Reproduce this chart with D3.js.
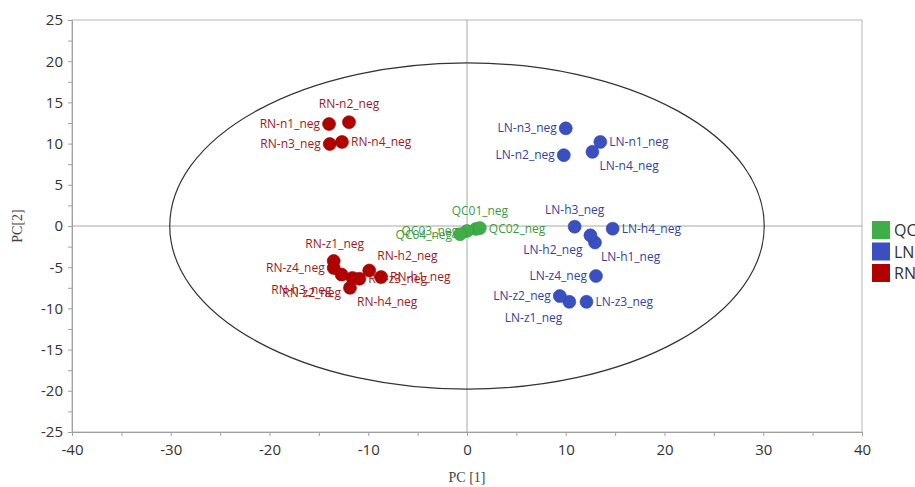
<!DOCTYPE html>
<html>
<head>
<meta charset="utf-8">
<script src="https://cdn.jsdelivr.net/npm/d3@7"></script>
<style>
body { margin: 0; background: #fff; }
svg { font-family: "Open Sans", sans-serif; }
</style>
</head>
<body>
<div id="chart"></div>
<script>
// sample scores (PC1, PC2)
var qcNames = ["QC01_neg", "QC02_neg", "QC03_neg", "QC04_neg"];
var qcPC1 = [0.9, 1.3, 0.0, -0.7];
var qcPC2 = [-0.35, -0.25, -0.6, -1.0];

var lnNames = ["LN-n1_neg", "LN-n2_neg", "LN-n3_neg", "LN-n4_neg",
               "LN-h1_neg", "LN-h2_neg", "LN-h3_neg", "LN-h4_neg",
               "LN-z1_neg", "LN-z2_neg", "LN-z3_neg", "LN-z4_neg"];
var lnPC1 = [13.5, 9.8, 10.0, 12.7, 12.96, 12.5, 10.9, 14.75, 10.36, 9.4, 12.1, 13.06];
var lnPC2 = [10.2, 8.6, 11.85, 9.0, -2.0, -1.13, -0.08, -0.33, -9.2, -8.5, -9.2, -6.07];

var rnNames = ["RN-n1_neg", "RN-n2_neg", "RN-n3_neg", "RN-n4_neg",
               "RN-h1_neg", "RN-h2_neg", "RN-h3_neg", "RN-h4_neg",
               "RN-z1_neg", "RN-z2_neg", "RN-z3_neg", "RN-z4_neg"];
var rnPC1 = [-13.97, -11.95, -13.9, -12.66, -8.7, -9.9, -11.6, -11.85, -13.5, -12.7, -10.9, -13.5];
var rnPC2 = [12.38, 12.6, 9.95, 10.2, -6.2, -5.4, -6.3, -7.5, -4.25, -5.9, -6.4, -5.1];

var groups = ["QC", "LN", "RN"];
var xTicks = [-40, -30, -20, -10, 0, 10, 20, 30, 40];
var yTicks = [-25, -20, -15, -10, -5, 0, 5, 10, 15, 20, 25];
// Hotelling T2 ellipse radii (PC1, PC2)
var ellipseR = [30.1, 19.8];

var width = 915;
var height = 487;

var colors = { QC: "#3fae49", LN: "#3a4fc0", RN: "#b00000" };
var textColors = { QC: "#3f9a3f", LN: "#34439a", RN: "#a0191c" };

// label placement: [dx, dy, anchor]
var labelPos = {
  "QC01_neg": [4, -14, "middle"], "QC02_neg": [9, 5, "start"],
  "QC03_neg": [-9, 4, "end"], "QC04_neg": [-8, 5, "end"],
  "LN-n1_neg": [9, 4, "start"], "LN-n2_neg": [-9, 4, "end"],
  "LN-n3_neg": [-9, 4, "end"], "LN-n4_neg": [7, 18, "start"],
  "LN-h1_neg": [6, 19, "start"], "LN-h2_neg": [-8, 19, "end"],
  "LN-h3_neg": [0, -13, "middle"], "LN-h4_neg": [9, 4, "start"],
  "LN-z1_neg": [-7, 20, "end"], "LN-z2_neg": [-9, 4, "end"],
  "LN-z3_neg": [9, 4, "start"], "LN-z4_neg": [-9, 4, "end"],
  "RN-n1_neg": [-9, 4, "end"], "RN-n2_neg": [0, -14, "middle"],
  "RN-n3_neg": [-9, 4, "end"], "RN-n4_neg": [9, 4, "start"],
  "RN-h1_neg": [9, 4, "start"], "RN-h2_neg": [8, -10, "start"],
  "RN-h3_neg": [-51, 16, "middle"], "RN-h4_neg": [7, 18, "start"],
  "RN-z1_neg": [1, -13, "middle"], "RN-z2_neg": [-30, 22, "middle"],
  "RN-z3_neg": [9, 4, "start"], "RN-z4_neg": [-9, 4, "end"]
};

var data = [];
function addGroup(g, names, a, b) {
  names.forEach(function (n, i) { data.push({ group: g, name: n, pc1: a[i], pc2: b[i] }); });
}
addGroup("QC", qcNames, qcPC1, qcPC2);
addGroup("LN", lnNames, lnPC1, lnPC2);
addGroup("RN", rnNames, rnPC1, rnPC2);

var x = d3.scaleLinear().domain([-40, 40]).range([72, 862]);
var y = d3.scaleLinear().domain([-25, 25]).range([432, 20]);

var svg = d3.select("#chart").append("svg")
    .attr("width", width)
    .attr("height", height);

// frame
svg.append("rect")
    .attr("x", x(-40)).attr("y", y(25))
    .attr("width", x(40) - x(-40)).attr("height", y(-25) - y(25))
    .attr("fill", "none").attr("stroke", "#b5b5b5");

// zero lines
svg.append("line")
    .attr("x1", x(0)).attr("x2", x(0)).attr("y1", y(25)).attr("y2", y(-25))
    .attr("stroke", "#a8a8a8");
svg.append("line")
    .attr("x1", x(-40)).attr("x2", x(40)).attr("y1", y(0)).attr("y2", y(0))
    .attr("stroke", "#a8a8a8");

// axes
var gx = svg.append("g")
    .attr("transform", "translate(0," + y(-25) + ")")
    .call(d3.axisBottom(x).tickValues(d3.range(-40, 41, 5)).tickSize(4)
      .tickFormat(function (d) { return xTicks.indexOf(d) >= 0 ? d : ""; }));
gx.select(".domain").attr("stroke", "#a0a0a0");
gx.selectAll(".tick line").attr("stroke", "#a0a0a0");
gx.selectAll(".tick text").attr("font-size", 15).attr("fill", "#333").attr("dy", "1.05em")
    .attr("font-family", "Open Sans");

var gy = svg.append("g")
    .attr("transform", "translate(" + x(-40) + ",0)")
    .call(d3.axisLeft(y).tickValues(d3.range(-25, 25.1, 2.5)).tickSize(4)
      .tickFormat(function (d) { return yTicks.indexOf(d) >= 0 ? d : ""; }));
gy.select(".domain").attr("stroke", "#a0a0a0");
gy.selectAll(".tick line").attr("stroke", "#a0a0a0");
gy.selectAll(".tick text").attr("font-size", 15).attr("fill", "#333").attr("x", -9)
    .attr("font-family", "Open Sans");

// axis titles
svg.append("text")
    .attr("transform", "translate(22," + y(0) + ") rotate(-90)")
    .attr("text-anchor", "middle")
    .attr("font-family", "Liberation Serif, serif")
    .attr("font-size", 14).attr("fill", "#444")
    .text("PC[2]");
svg.append("text")
    .attr("x", x(0)).attr("y", 482)
    .attr("text-anchor", "middle")
    .attr("font-family", "Liberation Serif, serif")
    .attr("font-size", 14).attr("fill", "#444")
    .text("PC [1]");

// ellipse
svg.append("ellipse")
    .attr("cx", x(0)).attr("cy", y(0))
    .attr("rx", x(ellipseR[0]) - x(0))
    .attr("ry", y(0) - y(ellipseR[1]))
    .attr("fill", "none").attr("stroke", "#333").attr("stroke-width", 1.2);

// labels
svg.selectAll("text.lbl")
    .data(data)
    .enter().append("text")
    .attr("class", "lbl")
    .attr("x", function (d) { return x(d.pc1) + labelPos[d.name][0]; })
    .attr("y", function (d) { return y(d.pc2) + labelPos[d.name][1]; })
    .attr("text-anchor", function (d) { return labelPos[d.name][2]; })
    .attr("font-size", 12)
    .attr("fill", function (d) { return textColors[d.group]; })
    .text(function (d) { return d.name; });

// points
svg.selectAll("circle.pt")
    .data(data)
    .enter().append("circle")
    .attr("class", "pt")
    .attr("cx", function (d) { return x(d.pc1); })
    .attr("cy", function (d) { return y(d.pc2); })
    .attr("r", 6.5)
    .attr("fill", function (d) { return colors[d.group]; })
    .attr("stroke", function (d) { return d3.color(colors[d.group]).darker(0.4); })
    .attr("stroke-width", 0.6);

// legend
var lg = svg.selectAll("g.legend")
    .data(groups)
    .enter().append("g")
    .attr("class", "legend")
    .attr("transform", function (d, i) { return "translate(872," + (221 + i * 21.5) + ")"; });
lg.append("rect")
    .attr("width", 18).attr("height", 18)
    .attr("fill", function (d) { return colors[d]; });
lg.append("text")
    .attr("x", 22).attr("y", 15)
    .attr("font-size", 16).attr("fill", "#333")
    .text(function (d) { return d; });
</script>
</body>
</html>
